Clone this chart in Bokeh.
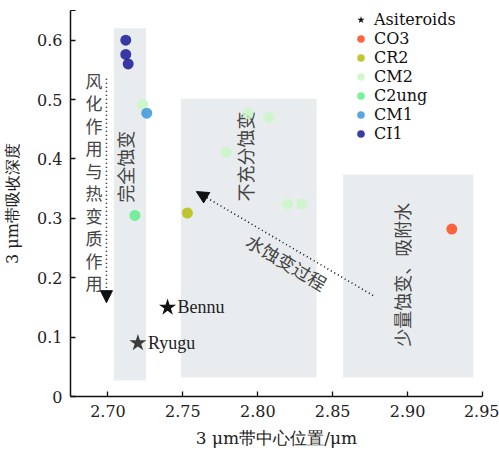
import math
from bokeh.plotting import figure
from bokeh.models import (Range1d, FixedTicker, Arrow, NormalHead, Legend, LegendItem,
                          PrintfTickFormatter)
from bokeh.core.properties import value
from bokeh.embed import file_html
from bokeh.resources import INLINE

# ---- data ----
classes = ["CO3", "CR2", "CM2", "C2ung", "CM1", "CI1"]
class_colors = ["#ff4a1c", "#b5bd0c", "#c9f7c4", "#5fee8c", "#3a96dc", "#1a1a99"]

met_x = [2.9295, 2.753, 2.7232, 2.779, 2.7935, 2.8074, 2.820, 2.8293, 2.718, 2.7259, 2.7119, 2.7119, 2.7135]
met_y = [0.282, 0.309, 0.492, 0.411, 0.476, 0.470, 0.324, 0.324, 0.305, 0.477, 0.600, 0.576, 0.560]
met_cls = ["CO3", "CR2", "CM2", "CM2", "CM2", "CM2", "CM2", "CM2", "C2ung", "CM1", "CI1", "CI1", "CI1"]

ast_names = ["Bennu", "Ryugu"]
ast_x = [2.7398, 2.720]
ast_y = [0.150, 0.090]
ast_colors = ["#111111", "#3c3c3c"]

box_left = [2.704, 2.7486, 2.857]
box_right = [2.7254, 2.8393, 2.9438]
box_bottom = [0.027, 0.032, 0.032]
box_top = [0.620, 0.5015, 0.374]

note_text = ["完全蚀变", "不充分蚀变", "少量蚀变、吸附水", "水蚀变过程"]
note_x = [2.7113, 2.7915, 2.8963, 2.8194]
note_y = [0.387, 0.404, 0.205, 0.227]
note_angle_deg = [90, 90, 90, -31]

stack_text = "风化作用与热变质作用"
stack_x = 2.6907
stack_y = 0.362

arrow_x_start = [2.699, 2.877]
arrow_y_start = [0.535, 0.170]
arrow_x_end = [2.699, 2.759]
arrow_y_end = [0.158, 0.345]

x_ticks = [2.70, 2.75, 2.80, 2.85, 2.90, 2.95]
y_ticks = [0, 0.1, 0.2, 0.3, 0.4, 0.5, 0.6]
y_tick_labels = ["0", "0.1", "0.2", "0.3", "0.4", "0.5", "0.6"]

LAT = "Liberation Serif"
AXF = "DejaVu Serif"
CJK = "Noto Sans CJK SC"

p = figure(width=499, height=450, output_backend="svg", toolbar_location=None,
           x_range=Range1d(2.675, 2.95), y_range=Range1d(0, 0.65),
           min_border_left=67, min_border_right=17, min_border_top=10, min_border_bottom=54)
p.xgrid.visible = False
p.ygrid.visible = False
p.outline_line_color = None
p.background_fill_color = "white"

# grey regions
p.quad(left=box_left, right=box_right, bottom=box_bottom, top=box_top,
       fill_color="#e9ecee", line_color=None)

# notes
p.text(x=note_x, y=note_y, text=note_text, angle=[math.radians(a) for a in note_angle_deg],
       text_align="center", text_baseline="middle", text_font=value(CJK),
       text_font_size="18px", text_color="#444444")
p.text(x=[stack_x], y=[stack_y], text=["\n".join(stack_text)], text_align="center",
       text_baseline="middle", text_font=value(CJK), text_font_size="17px",
       text_color="#444444", text_line_height=0.9)

# arrows
for xs, ys, xe, ye in zip(arrow_x_start, arrow_y_start, arrow_x_end, arrow_y_end):
    p.add_layout(Arrow(x_start=xs, y_start=ys, x_end=xe, y_end=ye,
                       line_dash="1 3", line_width=1.6, line_color="#111111",
                       end=NormalHead(size=12, fill_color="#111111", line_color="#111111")))

# meteorite points
class_renderers = []
for c, col in zip(classes, class_colors):
    xs = [x for x, k in zip(met_x, met_cls) if k == c]
    ys = [y for y, k in zip(met_y, met_cls) if k == c]
    r = p.scatter(xs, ys, size=11, marker="circle", fill_color=col, line_color=None, fill_alpha=0.85)
    class_renderers.append(r)

# asteroids
star_r = p.scatter(ast_x, ast_y, marker="star", size=18, fill_color=ast_colors, line_color=None)
p.text(x=ast_x, y=ast_y, text=ast_names, x_offset=10, text_baseline="middle",
       text_font=value(LAT), text_font_size="18px", text_color="#222222")

# legend
items = [LegendItem(label="Asiteroids", renderers=[star_r], index=0)]
for c, r in zip(classes, class_renderers):
    items.append(LegendItem(label=c, renderers=[r]))
leg = Legend(items=items, location="top_right", border_line_color=None,
             background_fill_alpha=0, padding=0, margin=0, spacing=0,
             glyph_width=19, glyph_height=19, label_height=18, label_width=108,
             label_standoff=4,
             label_text_font=AXF, label_text_font_size="16px",
             label_text_color="#111111", label_text_baseline="middle")
p.add_layout(leg)

# axes
for ax in (p.xaxis[0], p.yaxis[0]):
    ax.axis_line_width = 1.5
    ax.axis_line_color = "#111111"
    ax.major_tick_line_color = "#111111"
    ax.major_tick_line_width = 1.3
    ax.major_tick_in = 5
    ax.major_tick_out = 0
    ax.minor_tick_in = 5
    ax.minor_tick_out = 0
    ax.minor_tick_line_color = "#111111"
    ax.major_label_text_font = AXF
    ax.major_label_text_font_size = "16px"
    ax.major_label_text_color = "#222222"
    ax.axis_label_text_font = AXF
    ax.axis_label_text_font_style = "normal"
    ax.axis_label_text_color = "#222222"

p.xaxis.ticker = FixedTicker(ticks=x_ticks)
p.xaxis.formatter = PrintfTickFormatter(format="%.2f")
p.xaxis.axis_label = "3 μm带中心位置/μm"
p.xaxis.axis_label_text_font_size = "17px"
p.xaxis.major_label_standoff = 8
p.xaxis.axis_label_standoff = 8

p.yaxis.ticker = FixedTicker(ticks=y_ticks, minor_ticks=[0.65])
p.yaxis.major_label_overrides = dict(zip(y_ticks, y_tick_labels))
p.yaxis.axis_label = "3 μm带吸收深度"
p.yaxis.axis_label_text_font_size = "16px"
p.yaxis.major_label_standoff = 8
p.yaxis.axis_label_standoff = 12

open("out.html", "w").write(file_html(p, INLINE))
